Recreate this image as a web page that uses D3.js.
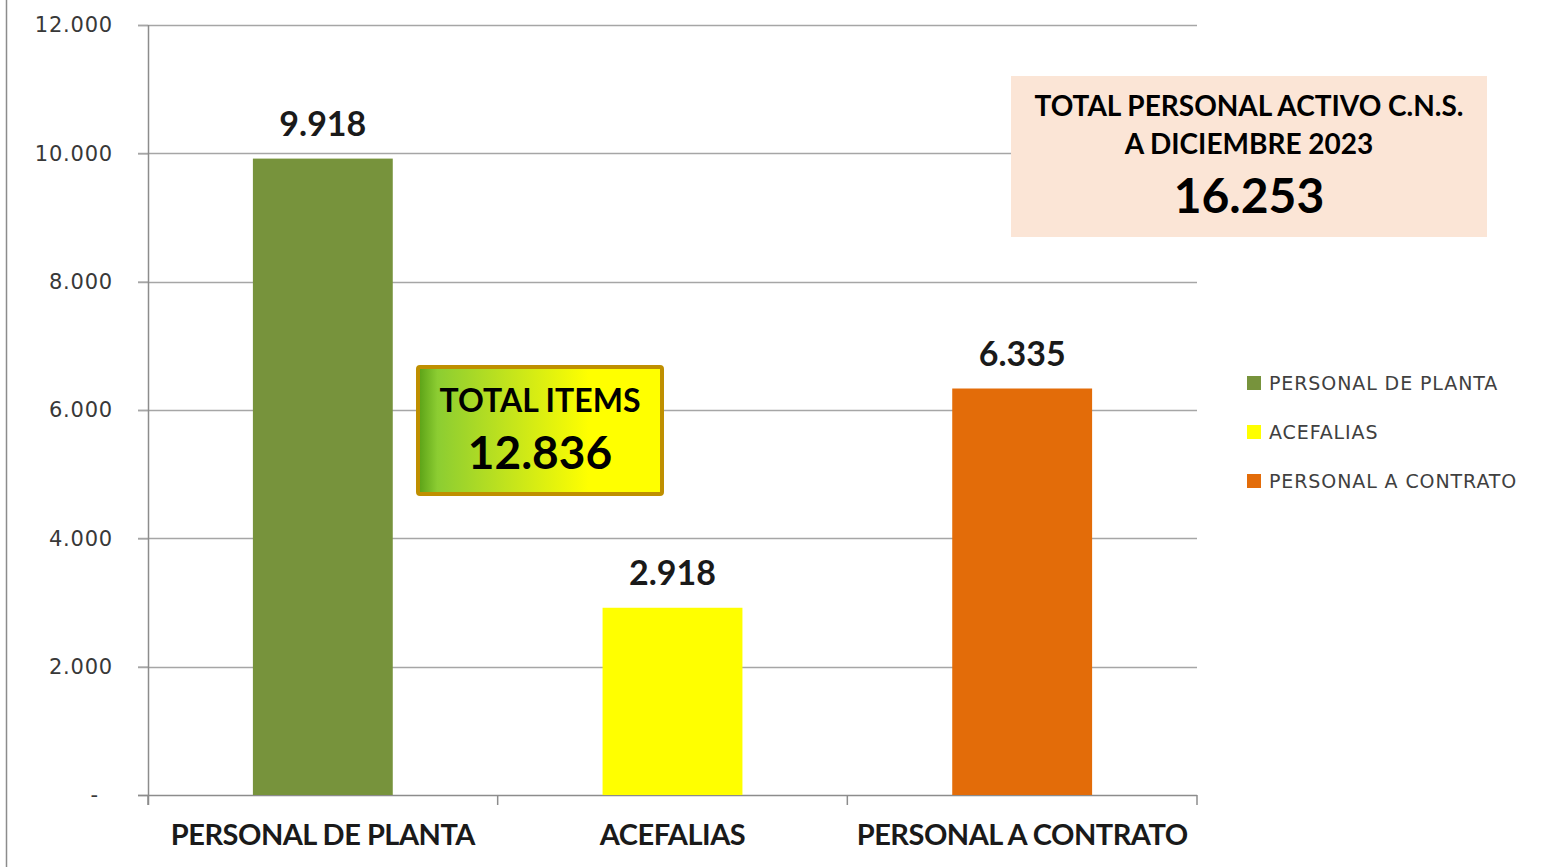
<!DOCTYPE html>
<html>
<head>
<meta charset="utf-8">
<script src="https://cdn.jsdelivr.net/npm/d3@7"></script>
<style>
  body { margin: 0; background: #fff; overflow: hidden; }
  svg { display: block; }
</style>
</head>
<body>
<div id="chart"></div>
<script>
// Data
const categories = ["PERSONAL DE PLANTA", "ACEFALIAS", "PERSONAL A CONTRATO"];
const values = [9918, 2918, 6335];
const barColors = ["#77933C", "#FFFF00", "#E36C09"];
const yTicks = [0, 2000, 4000, 6000, 8000, 10000, 12000];
const totalItemsLabel = "TOTAL ITEMS";
const totalItems = 12836;
const totalActiveLines = ["TOTAL PERSONAL ACTIVO C.N.S.", "A DICIEMBRE 2023"];
const totalActive = 16253;

const width = 1550;
const height = 867;
const margin = {top: 25, left: 148, right: 353, bottom: 72};
const innerWidth = width - margin.left - margin.right;
const innerHeight = height - margin.top - margin.bottom;

// Spanish number format: dot as thousands separator
const es = d3.formatLocale({decimal: ",", thousands: ".", grouping: [3], currency: ["", ""]});
const fmt = es.format(",d");

const svg = d3.select("#chart")
    .append("svg")
    .attr("width", width)
    .attr("height", height);

// thin frame line on the left edge
svg.append("line")
    .attr("x1", 6.5).attr("x2", 6.5)
    .attr("y1", 0).attr("y2", height)
    .attr("stroke", "#8c8c8c")
    .attr("stroke-width", 1.5);

const chart = svg.append("g")
    .attr("transform", `translate(${margin.left}, ${margin.top})`);

const x = d3.scaleBand()
    .domain(categories)
    .range([0, innerWidth])
    .paddingInner(0.6)
    .paddingOuter(0.3);

const y = d3.scaleLinear()
    .domain([0, 12000])
    .range([innerHeight, 0]);

// gridlines
chart.append("g")
    .selectAll("line")
    .data(yTicks.filter(d => d > 0))
    .join("line")
    .attr("x1", -10)
    .attr("x2", innerWidth)
    .attr("y1", d => Math.round(y(d)) + 0.5)
    .attr("y2", d => Math.round(y(d)) + 0.5)
    .attr("stroke", "#a6a6a6")
    .attr("stroke-width", 1.5);

// y axis
const yAxis = d3.axisLeft(y)
    .tickValues(yTicks)
    .tickSize(10)
    .tickPadding(25)
    .tickFormat(d => d === 0 ? "-" : fmt(d));

const yg = chart.append("g").call(yAxis);
yg.select(".domain").remove();
yg.selectAll(".tick line").attr("stroke", "#a6a6a6").attr("stroke-width", 1.5);
yg.selectAll(".tick text")
    .style("font-family", "'DejaVu Sans', sans-serif")
    .style("font-size", "21px")
    .style("letter-spacing", "0.8px")
    .attr("fill", "#383838")
    .attr("dx", d => d === 0 ? -14 : 0);

chart.append("line")
    .attr("x1", 0.5).attr("x2", 0.5)
    .attr("y1", 0).attr("y2", innerHeight + 10)
    .attr("stroke", "#8c8c8c")
    .attr("stroke-width", 1.5);

// x axis line and category ticks
chart.append("line")
    .attr("x1", -10).attr("x2", innerWidth)
    .attr("y1", innerHeight + 0.5).attr("y2", innerHeight + 0.5)
    .attr("stroke", "#8c8c8c")
    .attr("stroke-width", 1.5);

chart.append("g")
    .selectAll("line")
    .data(d3.range(categories.length + 1))
    .join("line")
    .attr("x1", i => innerWidth * i / categories.length)
    .attr("x2", i => innerWidth * i / categories.length)
    .attr("y1", innerHeight)
    .attr("y2", innerHeight + 10)
    .attr("stroke", "#8c8c8c")
    .attr("stroke-width", 1.5);

// category labels
chart.append("g")
    .selectAll("text")
    .data(categories)
    .join("text")
    .attr("x", d => x(d) + x.bandwidth() / 2)
    .attr("y", innerHeight + 50)
    .attr("text-anchor", "middle")
    .style("font-family", "Lato, sans-serif")
    .style("font-weight", "bold")
    .style("font-size", "29px")
    .style("letter-spacing", "-0.5px")
    .attr("fill", "#1a1a1a")
    .text(d => d);

// bars
chart.append("g")
    .selectAll("rect")
    .data(values)
    .join("rect")
    .attr("x", (d, i) => x(categories[i]))
    .attr("y", d => y(d))
    .attr("width", x.bandwidth())
    .attr("height", d => innerHeight - y(d))
    .attr("fill", (d, i) => barColors[i]);

// value labels
chart.append("g")
    .selectAll("text")
    .data(values)
    .join("text")
    .attr("x", (d, i) => x(categories[i]) + x.bandwidth() / 2)
    .attr("y", d => y(d) - 23)
    .attr("text-anchor", "middle")
    .style("font-family", "Lato, sans-serif")
    .style("font-weight", "bold")
    .style("font-size", "34px")
    .attr("fill", "#1a1a1a")
    .text(d => fmt(d));

// legend
const legend = svg.append("g")
    .attr("transform", "translate(1247, 383)");

categories.forEach((c, i) => {
    const row = legend.append("g").attr("transform", `translate(0, ${i * 49})`);
    row.append("rect")
        .attr("x", 0).attr("y", -7)
        .attr("width", 14).attr("height", 14)
        .attr("fill", barColors[i]);
    row.append("text")
        .attr("x", 22).attr("y", 7)
        .style("font-family", "'DejaVu Sans', sans-serif")
        .style("font-size", "19px")
        .style("letter-spacing", "0.9px")
        .attr("fill", "#404040")
        .text(c);
});

// TOTAL ITEMS box with green-to-yellow gradient
const defs = svg.append("defs");
const grad = defs.append("linearGradient").attr("id", "itemsGrad");
grad.append("stop").attr("offset", "0%").attr("stop-color", "#5aa016");
grad.append("stop").attr("offset", "8%").attr("stop-color", "#8ccd32");
grad.append("stop").attr("offset", "40%").attr("stop-color", "#c8e61a");
grad.append("stop").attr("offset", "70%").attr("stop-color", "#ffff00");
grad.append("stop").attr("offset", "100%").attr("stop-color", "#ffff00");

const itemsBox = svg.append("g").attr("transform", "translate(418, 367)");
itemsBox.append("rect")
    .attr("width", 244).attr("height", 127)
    .attr("rx", 2)
    .attr("fill", "url(#itemsGrad)")
    .attr("stroke", "#bf8f00")
    .attr("stroke-width", 4);
itemsBox.append("text")
    .attr("x", 122).attr("y", 45)
    .attr("text-anchor", "middle")
    .style("font-family", "Lato, sans-serif")
    .style("font-weight", "bold")
    .style("font-size", "32px")
    .attr("fill", "#000")
    .text(totalItemsLabel);
itemsBox.append("text")
    .attr("x", 122).attr("y", 102)
    .attr("text-anchor", "middle")
    .style("font-family", "Lato, sans-serif")
    .style("font-weight", "bold")
    .style("font-size", "46px")
    .attr("fill", "#000")
    .text(fmt(totalItems));

// TOTAL PERSONAL ACTIVO box
const activeBox = svg.append("g").attr("transform", "translate(1011, 76)");
activeBox.append("rect")
    .attr("width", 476).attr("height", 161)
    .attr("fill", "#fbe5d6");
totalActiveLines.forEach((t, i) => {
    activeBox.append("text")
        .attr("x", 238).attr("y", 40 + i * 38)
        .attr("text-anchor", "middle")
        .style("font-family", "Lato, sans-serif")
        .style("font-weight", "bold")
        .style("font-size", "28px")
        .attr("fill", "#000")
        .text(t);
});
activeBox.append("text")
    .attr("x", 238).attr("y", 137)
    .attr("text-anchor", "middle")
    .style("font-family", "Lato, sans-serif")
    .style("font-weight", "bold")
    .style("font-size", "48px")
    .attr("fill", "#000")
    .text(fmt(totalActive));
</script>
</body>
</html>
